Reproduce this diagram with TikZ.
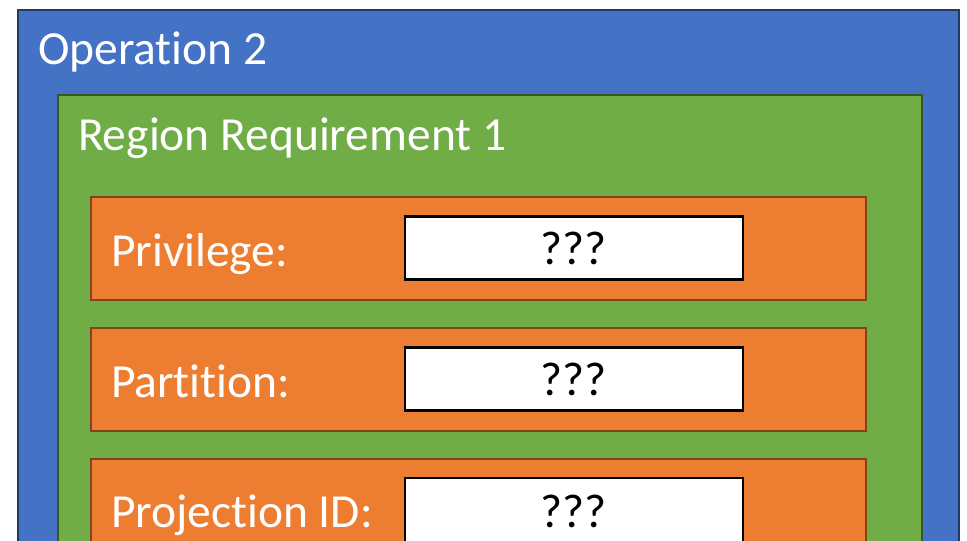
\documentclass[tikz,border=0pt]{standalone}
\usepackage{fontspec}
\setmainfont{Carlito}[Ligatures={NoCommon,NoContextual}]
\definecolor{opblue}{HTML}{4472C4}
\definecolor{opgreen}{HTML}{70AD47}
\definecolor{oporange}{HTML}{ED7D31}
\tikzset{
	regbox/.style={
			x=1pt, y=-1pt,
			every node/.style={inner sep=0pt, outer sep=0pt},
			opbox/.style={rectangle, draw=opblue!50!black, fill=opblue, line width=2pt, anchor=north west},
			reqbox/.style={rectangle, draw=opgreen!50!black, fill=opgreen, line width=2pt, anchor=north west},
			fieldbox/.style={rectangle, draw=oporange!55!black, fill=oporange, line width=2pt, anchor=north west, minimum width=775pt, minimum height=103pt},
			valbox/.style={rectangle, draw=black, fill=white, line width=2.2pt, minimum width=338pt, minimum height=63pt, font=\fontsize{47.5}{56}\selectfont},
			blabel/.style={text=white, anchor=base west, font=\fontsize{47.5}{56}\selectfont},
		}
}

\begin{document}
\begin{tikzpicture}[regbox]
	\useasboundingbox (0,0) rectangle (967,541);
	\clip (0,0) rectangle (967,541);
	\node[opbox, minimum width=941pt, minimum height=620pt] (op) at (18,10) {};
	\node[blabel] (oplabel) at (38,64) {Operation 2};
	\node[reqbox, minimum width=864pt, minimum height=520pt] (req) at (58,95) {};
	\node[blabel] (reqlabel) at (78,150) {Region Requirement 1};
	% fields
	\node[fieldbox] (priv) at (91,197) {};
	\node[blabel] (privlabel) at (111,266) {Privilege:};
	\node[valbox] (privval) at (574,248) {???};
	\node[fieldbox] (part) at (91,328) {};
	\node[blabel] (partlabel) at (111,397) {Partition:};
	\node[valbox] (partval) at (574,379) {???};
	\node[fieldbox, minimum height=140pt] (proj) at (91,459) {};
	\node[blabel] (projlabel) at (111,527) {Projection ID:};
	\node[valbox, minimum height=90pt, anchor=north] (projval) at (574,478) {};
	\node[font=\fontsize{47.5}{56}\selectfont, anchor=base] (projq) at (574,527) {???};
\end{tikzpicture}
\end{document}
